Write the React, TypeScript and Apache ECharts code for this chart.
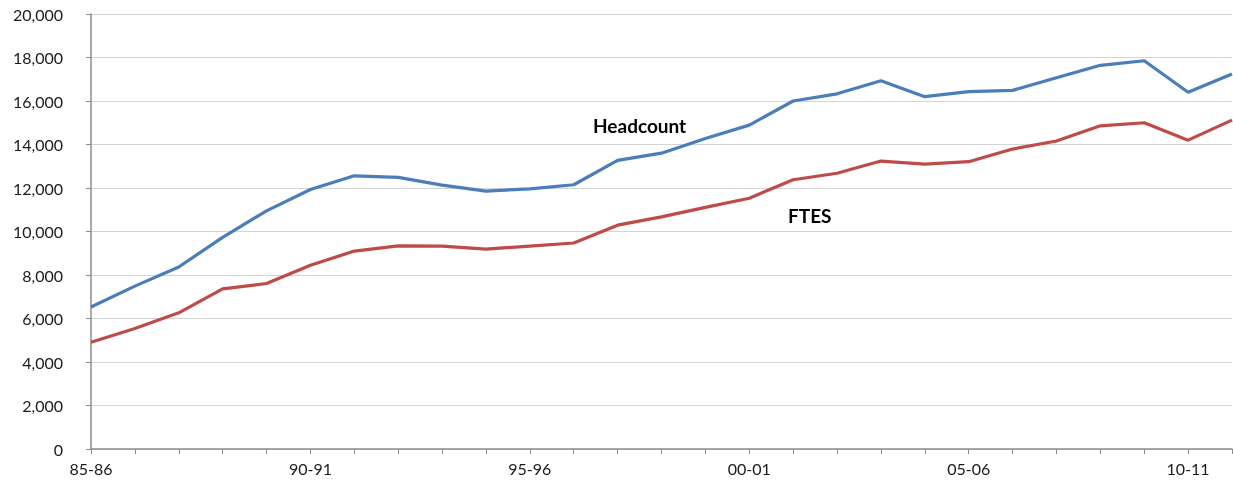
import React, { useEffect, useRef } from "react";
import * as echarts from "echarts";

const categories = [
  "85-86", "86-87", "87-88", "88-89", "89-90", "90-91", "91-92", "92-93", "93-94",
  "94-95", "95-96", "96-97", "97-98", "98-99", "99-00", "00-01", "01-02", "02-03",
  "03-04", "04-05", "05-06", "06-07", "07-08", "08-09", "09-10", "10-11", "11-12",
];

const headcount = [
  6530, 7490, 8370, 9730, 10950, 11930, 12560, 12490, 12130, 11860, 11960, 12150,
  13270, 13600, 14280, 14890, 16000, 16330, 16930, 16200, 16430, 16490, 17070,
  17640, 17850, 16400, 17240,
];

const ftes = [
  4910, 5540, 6260, 7360, 7610, 8450, 9100, 9340, 9330, 9190, 9330, 9470, 10290,
  10670, 11110, 11530, 12380, 12680, 13240, 13100, 13210, 13790, 14160, 14860,
  15000, 14200, 15120,
];

const seriesNames = ["Headcount", "FTES"];

export default function App() {
  const ref = useRef<HTMLDivElement>(null);
  useEffect(() => {
    if (!ref.current) return;
    const chart = echarts.init(ref.current, null, { renderer: "svg" });
    const font = "Lato, 'Open Sans', sans-serif";
    chart.setOption({
      animation: false,
      grid: { left: 91, right: 1, top: 14, bottom: 40 },
      xAxis: {
        type: "category",
        data: categories,
        boundaryGap: false,
        axisLine: { lineStyle: { color: "#8c8c8c", width: 1.5 } },
        axisTick: { interval: 0, length: 5, lineStyle: { color: "#8c8c8c" } },
        axisLabel: {
          interval: 4,
          color: "#1a1a1a",
          fontSize: 16,
          fontFamily: font,
          margin: 11,
        },
        splitLine: { show: false },
      },
      yAxis: {
        type: "value",
        min: 0,
        max: 20000,
        interval: 2000,
        axisLine: { show: true, lineStyle: { color: "#8c8c8c", width: 1.5 } },
        axisTick: { show: true, length: 5, lineStyle: { color: "#8c8c8c" } },
        axisLabel: {
          color: "#1a1a1a",
          fontSize: 16,
          fontFamily: font,
          margin: 28,
          formatter: (v: number) => v.toLocaleString("en-US"),
        },
        splitLine: { lineStyle: { color: "#d4d4d4", width: 1.2 } },
      },
      series: [
        {
          name: seriesNames[0],
          type: "line",
          data: headcount,
          symbol: "none",
          lineStyle: { color: "#4a7ebb", width: 3.2 },
          itemStyle: { color: "#4a7ebb" },
        },
        {
          name: seriesNames[1],
          type: "line",
          data: ftes,
          symbol: "none",
          lineStyle: { color: "#be4b48", width: 3.2 },
          itemStyle: { color: "#be4b48" },
        },
      ],
      graphic: [
        {
          type: "text",
          x: 593,
          y: 125,
          style: {
            text: seriesNames[0],
            font: `bold 19px ${font}`,
            fill: "#000",
            align: "left",
            verticalAlign: "middle",
          },
        },
        {
          type: "text",
          x: 788,
          y: 215,
          style: {
            text: seriesNames[1],
            font: `bold 19px ${font}`,
            fill: "#000",
            align: "left",
            verticalAlign: "middle",
          },
        },
      ],
    });
    return () => chart.dispose();
  }, []);
  return (
    <div
      ref={ref}
      style={{ position: "fixed", left: 0, top: 0, width: 1233, height: 489 }}
    />
  );
}
